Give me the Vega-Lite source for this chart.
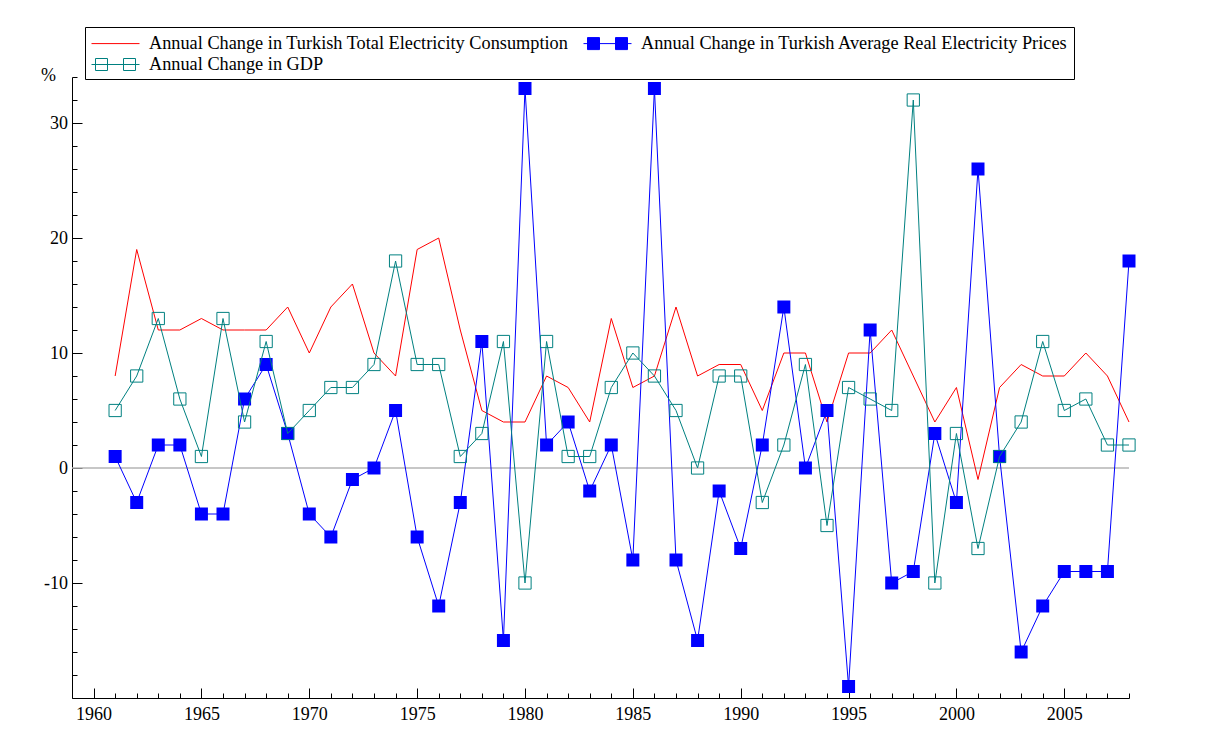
{
  "$schema": "https://vega.github.io/schema/vega-lite/v6.json",
  "width": 1057,
  "height": 621,
  "autosize": {"type": "none"},
  "padding": {"left": 72, "top": 77, "right": 85, "bottom": 42},
  "background": "white",
  "config": {
    "view": {"stroke": null},
    "axis": {
      "labelFont": "Liberation Serif",
      "labelFontSize": 18,
      "labelColor": "black",
      "domainColor": "black",
      "domainWidth": 1,
      "tickColor": "black",
      "tickWidth": 1,
      "grid": false,
      "titleFont": "Liberation Serif",
      "titleFontWeight": "normal",
      "titleColor": "black"
    }
  },
  "data": {
    "values": [
      {"year": 1961, "cons": 8, "price": 1, "gdp": 5},
      {"year": 1962, "cons": 19, "price": -3, "gdp": 8},
      {"year": 1963, "cons": 12, "price": 2, "gdp": 13},
      {"year": 1964, "cons": 12, "price": 2, "gdp": 6},
      {"year": 1965, "cons": 13, "price": -4, "gdp": 1},
      {"year": 1966, "cons": 12, "price": -4, "gdp": 13},
      {"year": 1967, "cons": 12, "price": 6, "gdp": 4},
      {"year": 1968, "cons": 12, "price": 9, "gdp": 11},
      {"year": 1969, "cons": 14, "price": 3, "gdp": 3},
      {"year": 1970, "cons": 10, "price": -4, "gdp": 5},
      {"year": 1971, "cons": 14, "price": -6, "gdp": 7},
      {"year": 1972, "cons": 16, "price": -1, "gdp": 7},
      {"year": 1973, "cons": 10, "price": 0, "gdp": 9},
      {"year": 1974, "cons": 8, "price": 5, "gdp": 18},
      {"year": 1975, "cons": 19, "price": -6, "gdp": 9},
      {"year": 1976, "cons": 20, "price": -12, "gdp": 9},
      {"year": 1977, "cons": 12, "price": -3, "gdp": 1},
      {"year": 1978, "cons": 5, "price": 11, "gdp": 3},
      {"year": 1979, "cons": 4, "price": -15, "gdp": 11},
      {"year": 1980, "cons": 4, "price": 33, "gdp": -10},
      {"year": 1981, "cons": 8, "price": 2, "gdp": 11},
      {"year": 1982, "cons": 7, "price": 4, "gdp": 1},
      {"year": 1983, "cons": 4, "price": -2, "gdp": 1},
      {"year": 1984, "cons": 13, "price": 2, "gdp": 7},
      {"year": 1985, "cons": 7, "price": -8, "gdp": 10},
      {"year": 1986, "cons": 8, "price": 33, "gdp": 8},
      {"year": 1987, "cons": 14, "price": -8, "gdp": 5},
      {"year": 1988, "cons": 8, "price": -15, "gdp": 0},
      {"year": 1989, "cons": 9, "price": -2, "gdp": 8},
      {"year": 1990, "cons": 9, "price": -7, "gdp": 8},
      {"year": 1991, "cons": 5, "price": 2, "gdp": -3},
      {"year": 1992, "cons": 10, "price": 14, "gdp": 2},
      {"year": 1993, "cons": 10, "price": 0, "gdp": 9},
      {"year": 1994, "cons": 4, "price": 5, "gdp": -5},
      {"year": 1995, "cons": 10, "price": -19, "gdp": 7},
      {"year": 1996, "cons": 10, "price": 12, "gdp": 6},
      {"year": 1997, "cons": 12, "price": -10, "gdp": 5},
      {"year": 1998, "cons": 8, "price": -9, "gdp": 32},
      {"year": 1999, "cons": 4, "price": 3, "gdp": -10},
      {"year": 2000, "cons": 7, "price": -3, "gdp": 3},
      {"year": 2001, "cons": -1, "price": 26, "gdp": -7},
      {"year": 2002, "cons": 7, "price": 1, "gdp": 1},
      {"year": 2003, "cons": 9, "price": -16, "gdp": 4},
      {"year": 2004, "cons": 8, "price": -12, "gdp": 11},
      {"year": 2005, "cons": 8, "price": -9, "gdp": 5},
      {"year": 2006, "cons": 10, "price": -9, "gdp": 6},
      {"year": 2007, "cons": 8, "price": -9, "gdp": 2},
      {"year": 2008, "cons": 4, "price": 18, "gdp": 2}
    ]
  },
  "resolve": {"axis": {"x": "independent", "y": "independent"}},
  "layer": [
    {
      "data": {"values": [{"zero": 0}]},
      "mark": {"type": "rule", "color": "#b4b4b4", "strokeWidth": 1.5},
      "encoding": {
        "y": {"field": "zero", "type": "quantitative", "scale": {"domain": [-20, 34], "nice": false, "zero": false}, "axis": null}
      }
    },
    {
      "mark": {"type": "line", "color": "#ff0000", "strokeWidth": 1},
      "encoding": {
        "x": {
          "field": "year", "type": "quantitative",
          "scale": {"domain": [1959, 2008], "nice": false, "zero": false},
          "axis": {
            "orient": "bottom",
            "values": [1960, 1965, 1970, 1975, 1980, 1985, 1990, 1995, 2000, 2005],
            "format": "d",
            "tickSize": -10,
            "labelPadding": 17,
            "labelFlush": false,
            "labelOverlap": false,
            "title": null
          }
        },
        "y": {
          "field": "cons", "type": "quantitative",
          "scale": {"domain": [-20, 34], "nice": false, "zero": false},
          "axis": {
            "orient": "left",
            "values": [-10, 0, 10, 20, 30],
            "labelExpr": "datum.value < 0 ? '-' + abs(datum.value) : '' + datum.value",
            "tickSize": -10,
            "labelPadding": 14.5,
            "labelOverlap": false,
            "title": "%",
            "titleAngle": 0,
            "titleFontSize": 18,
            "titleAlign": "center",
            "titleBaseline": "alphabetic",
            "titleX": -24,
            "titleY": 3
          }
        }
      }
    },
    {
      "mark": {"type": "line", "color": "#0000ff", "strokeWidth": 1},
      "encoding": {
        "x": {
          "field": "year", "type": "quantitative",
          "scale": {"domain": [1959, 2008], "nice": false, "zero": false},
          "axis": {
            "orient": "bottom",
            "values": [1959, 1961, 1962, 1963, 1964, 1966, 1967, 1968, 1969, 1971, 1972, 1973, 1974, 1976, 1977, 1978, 1979, 1981, 1982, 1983, 1984, 1986, 1987, 1988, 1989, 1991, 1992, 1993, 1994, 1996, 1997, 1998, 1999, 2001, 2002, 2003, 2004, 2006, 2007, 2008],
            "tickSize": -5,
            "labels": false,
            "domain": false,
            "title": null
          }
        },
        "y": {
          "field": "price", "type": "quantitative",
          "scale": {"domain": [-20, 34], "nice": false, "zero": false},
          "axis": {
            "orient": "left",
            "values": [-18, -16, -14, -12, -8, -6, -4, -2, 2, 4, 6, 8, 12, 14, 16, 18, 22, 24, 26, 28, 32, 34],
            "tickSize": -5,
            "labels": false,
            "domain": false,
            "title": null
          }
        }
      }
    },
    {
      "mark": {"type": "point", "shape": "square", "filled": true, "color": "#0000ff", "size": 169, "opacity": 1},
      "encoding": {
        "x": {"field": "year", "type": "quantitative", "scale": {"domain": [1959, 2008], "nice": false, "zero": false}, "axis": null},
        "y": {"field": "price", "type": "quantitative", "scale": {"domain": [-20, 34], "nice": false, "zero": false}, "axis": null}
      }
    },
    {
      "mark": {"type": "line", "color": "#008080", "strokeWidth": 1},
      "encoding": {
        "x": {"field": "year", "type": "quantitative", "scale": {"domain": [1959, 2008], "nice": false, "zero": false}, "axis": null},
        "y": {"field": "gdp", "type": "quantitative", "scale": {"domain": [-20, 34], "nice": false, "zero": false}, "axis": null}
      }
    },
    {
      "mark": {"type": "point", "shape": "square", "filled": false, "color": "#008080", "size": 150, "strokeWidth": 1, "opacity": 1},
      "encoding": {
        "x": {"field": "year", "type": "quantitative", "scale": {"domain": [1959, 2008], "nice": false, "zero": false}, "axis": null},
        "y": {"field": "gdp", "type": "quantitative", "scale": {"domain": [-20, 34], "nice": false, "zero": false}, "axis": null}
      }
    },
    {
      "data": {"values": [
        {"s": "Annual Change in Turkish Total Electricity Consumption"},
        {"s": "Annual Change in GDP"},
        {"s": "Annual Change in Turkish Average Real Electricity Prices"}
      ]},
      "transform": [{"filter": "datum.s == 'none'"}],
      "mark": {"type": "point", "filled": false, "size": 400, "strokeWidth": 1, "opacity": 1},
      "encoding": {
        "shape": {
          "field": "s", "type": "nominal",
          "scale": {
            "domain": ["Annual Change in Turkish Total Electricity Consumption", "Annual Change in GDP", "Annual Change in Turkish Average Real Electricity Prices"],
            "range": ["M-2.4,0H2.4", "M-2.4,0H2.4M-2,-0.6H-0.8V0.6H-2ZM0.8,-0.6H2V0.6H0.8Z", "M-2.4,0H2.4M-2,-0.6H-0.8V0.6H-2ZM0.8,-0.6H2V0.6H0.8Z"]
          },
          "legend": {
            "title": null, "orient": "none", "legendX": 13, "legendY": -50,
            "columns": 2, "columnPadding": 12, "rowPadding": 2, "padding": 6,
            "strokeColor": "black", "fillColor": "white",
            "symbolSize": 400, "symbolStrokeWidth": 1, "symbolOffset": 14, "symbolOpacity": 1,
            "labelOffset": 23, "labelLimit": 800,
            "labelFont": "Liberation Serif", "labelFontSize": 18.3, "labelColor": "black"
          }
        },
        "stroke": {
          "field": "s", "type": "nominal",
          "scale": {
            "domain": ["Annual Change in Turkish Total Electricity Consumption", "Annual Change in GDP", "Annual Change in Turkish Average Real Electricity Prices"],
            "range": ["#ff0000", "#008080", "#0000ff"]
          },
          "legend": {
            "title": null, "orient": "none", "legendX": 13, "legendY": -50,
            "columns": 2, "columnPadding": 12, "rowPadding": 2, "padding": 6,
            "strokeColor": "black", "fillColor": "white",
            "symbolSize": 400, "symbolStrokeWidth": 1, "symbolOffset": 14, "symbolOpacity": 1,
            "labelOffset": 23, "labelLimit": 800,
            "labelFont": "Liberation Serif", "labelFontSize": 18.3, "labelColor": "black"
          }
        },
        "fill": {
          "field": "s", "type": "nominal",
          "scale": {
            "domain": ["Annual Change in Turkish Total Electricity Consumption", "Annual Change in GDP", "Annual Change in Turkish Average Real Electricity Prices"],
            "range": ["transparent", "transparent", "#0000ff"]
          },
          "legend": {
            "title": null, "orient": "none", "legendX": 13, "legendY": -50,
            "columns": 2, "columnPadding": 12, "rowPadding": 2, "padding": 6,
            "strokeColor": "black", "fillColor": "white",
            "symbolSize": 400, "symbolStrokeWidth": 1, "symbolOffset": 14, "symbolOpacity": 1,
            "labelOffset": 23, "labelLimit": 800,
            "labelFont": "Liberation Serif", "labelFontSize": 18.3, "labelColor": "black"
          }
        }
      }
    }
  ]
}
